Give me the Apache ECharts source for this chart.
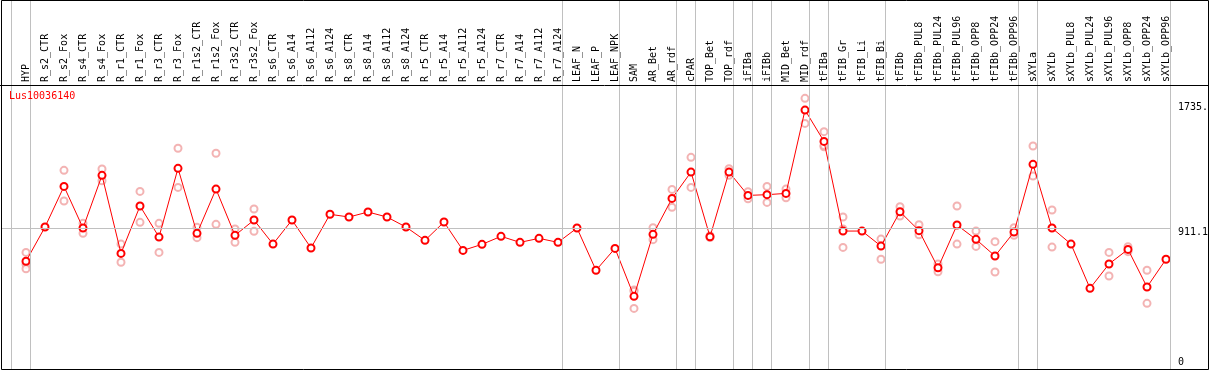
<!DOCTYPE html>
<html>
<head>
<meta charset="utf-8">
<script src="https://cdn.jsdelivr.net/npm/echarts@6/dist/echarts.min.js"></script>
<style>html,body{margin:0;padding:0;background:#fff;}#chart{width:1209px;height:370px;}</style>
</head>
<body>
<div id="chart"></div>
<script>
const geneName = 'Lus10036140';
const categories = ['HYP','R_s2_CTR','R_s2_Fox','R_s4_CTR','R_s4_Fox','R_r1_CTR','R_r1_Fox','R_r3_CTR','R_r3_Fox','R_r1s2_CTR',
  'R_r1s2_Fox','R_r3s2_CTR','R_r3s2_Fox','R_s6_CTR','R_s6_A14','R_s6_A112','R_s6_A124','R_s8_CTR','R_s8_A14','R_s8_A112',
  'R_s8_A124','R_r5_CTR','R_r5_A14','R_r5_A112','R_r5_A124','R_r7_CTR','R_r7_A14','R_r7_A112','R_r7_A124','LEAF_N',
  'LEAF_P','LEAF_NPK','SAM','AR_Bet','AR_rdf','cPAR','TOP_Bet','TOP_rdf','iFIBa','iFIBb',
  'MID_Bet','MID_rdf','tFIBa','tFIB_Gr','tFIB_Li','tFIB_Bi','tFIBb','tFIBb_PUL8','tFIBb_PUL24','tFIBb_PUL96',
  'tFIBb_OPP8','tFIBb_OPP24','tFIBb_OPP96','sXYLa','sXYLb','sXYLb_PUL8','sXYLb_PUL24','sXYLb_PUL96','sXYLb_OPP8','sXYLb_OPP24',
  'sXYLb_OPP96'];
const meanValues = [679,918,1202,911,1279,734,1065,848,1328,874,
  1183,860,967,799,967,772,1007,988,1023,988,
  918,825,953,755,797,853,811,839,811,911,
  616,769,434,867,1118,1302,850,1302,1139,1144,
  1153,1735,1516,890,890,785,1025,893,634,932,
  832,716,883,1356,911,799,490,660,762,499,
  693];
const rep1 = [741,null,1314,944,1323,799,1167,944,1468,916,
  1433,904,1044,null,null,null,null,null,null,null,
  null,null,null,null,null,null,null,null,null,null,
  null,null,478,913,1181,1405,857,1325,1165,1202,
  1183,1817,1584,988,null,834,1060,934,660,1065,
  890,816,913,1484,1037,null,null,741,781,616,
  null];
const rep2 = [657,null,1100,874,1241,672,951,741,1195,844,
  937,811,888,null,null,null,null,null,null,null,
  null,null,null,null,null,null,null,null,null,null,
  null,null,350,830,1056,1195,845,1279,1116,1090,
  1123,1642,1479,776,null,693,995,864,606,799,
  783,604,860,1274,778,null,null,576,746,385,
  null];
const rep3 = [627,null,null,null,null,null,null,null,null,null,
  null,null,null,null,null,null,null,null,null,null,
  null,null,null,null,null,null,null,null,null,null,
  null,null,470,null,null,null,null,null,null,null,
  null,null,1487,904,null,null,null,null,null,null,
  null,null,null,null,null,null,null,null,null,null,
  null];
const groupEnds = ['HYP','R_r7_A124','LEAF_NPK','AR_rdf','cPAR','TOP_rdf','iFIBa','iFIBb','MID_rdf','tFIBa','tFIB_Bi','tFIBb_OPP96','sXYLa','sXYLb_OPP96'];
const refLineValue = 911.1;
const yTickValues = [1735, 911.1, 0];
const yTickTexts = ['1735.', '911.1', '0'];

// layout
const W = 1209, H = 370;
const PLOT_LEFT = 16.5, PLOT_W = 1159, PLOT_TOP = 85, PLOT_H = 273.5, YMAX = 1910;
const FRAME_LEFT = 2, FRAME_RIGHT = 1171;
const band = PLOT_W / categories.length;
const sepOffset = 4.5 / band;
const xMin = -0.5 - (PLOT_LEFT - FRAME_LEFT) / band;
const xMax = (categories.length - 0.5) - ((PLOT_LEFT + PLOT_W) - FRAME_RIGHT) / band;
const scale = YMAX / PLOT_H;
const zeroPx = PLOT_TOP + PLOT_H;
const yLo = -(H - zeroPx) * scale;
const yHi = zeroPx * scale;

const mono = 'DejaVu Sans Mono';
const sepValues = [-1 + sepOffset].concat(groupEnds.map(n => categories.indexOf(n) + sepOffset));
const labelOffsets = [[0, -3], [0, 4], [0, 3.5]];

const chart = echarts.init(document.getElementById('chart'), null, {renderer: 'canvas'});
chart.setOption({
  animation: false,
  backgroundColor: '#fff',
  title: {
    text: geneName, left: 9, top: 91, padding: 0,
    textStyle: {color: '#ff0000', fontSize: 10, fontFamily: mono, fontWeight: 'normal'}
  },
  grid: [
    {left: PLOT_LEFT, width: PLOT_W, top: PLOT_TOP, height: PLOT_H},
    {left: FRAME_LEFT, width: FRAME_RIGHT - FRAME_LEFT, top: 0, height: H}
  ],
  xAxis: [
    {
      type: 'category', gridIndex: 0, position: 'top', data: categories, boundaryGap: true,
      axisLine: {show: false}, axisTick: {show: false}, splitLine: {show: false},
      axisLabel: {interval: 0, rotate: 90, margin: 3, color: '#000', fontSize: 10, fontFamily: mono}
    },
    {type: 'value', gridIndex: 1, min: xMin, max: xMax, show: false}
  ],
  yAxis: [
    {type: 'value', gridIndex: 0, min: 0, max: YMAX, show: false},
    {type: 'value', gridIndex: 1, min: yLo, max: yHi, show: false}
  ],
  series: [
    {
      type: 'line', xAxisIndex: 1, yAxisIndex: 1, data: [], silent: true, z: 1,
      markLine: {
        silent: true, symbol: ['none', 'none'], animation: false,
        lineStyle: {color: '#c0c0c0', type: 'solid', width: 1},
        label: {show: false},
        data: sepValues.map(v => ({xAxis: v}))
      }
    },
    {
      type: 'line', xAxisIndex: 1, yAxisIndex: 1, data: [], silent: true, z: 1,
      markLine: {
        silent: true, symbol: ['none', 'none'], animation: false,
        lineStyle: {color: '#c0c0c0', type: 'solid', width: 1},
        label: {show: true, position: 'end', distance: 7, color: '#000', fontSize: 10, fontFamily: mono},
        data: yTickValues.map((v, i) => ({
          yAxis: v,
          lineStyle: {color: v === refLineValue ? '#c0c0c0' : 'rgba(0,0,0,0)'},
          label: {show: true, formatter: yTickTexts[i], offset: labelOffsets[i], color: '#000'}
        }))
      }
    },
    {
      type: 'scatter', xAxisIndex: 0, yAxisIndex: 0, data: rep1, z: 3,
      symbol: 'emptyCircle', symbolSize: 7,
      itemStyle: {color: '#f0a0a0', borderColor: '#f09a9a', borderWidth: 1.2}
    },
    {
      type: 'scatter', xAxisIndex: 0, yAxisIndex: 0, data: rep2, z: 3,
      symbol: 'emptyCircle', symbolSize: 7,
      itemStyle: {color: '#f0a0a0', borderColor: '#f09a9a', borderWidth: 1.2}
    },
    {
      type: 'scatter', xAxisIndex: 0, yAxisIndex: 0, data: rep3, z: 3,
      symbol: 'emptyCircle', symbolSize: 7,
      itemStyle: {color: '#f0a0a0', borderColor: '#f09a9a', borderWidth: 1.2}
    },
    {
      type: 'line', xAxisIndex: 0, yAxisIndex: 0, data: meanValues, z: 4,
      symbol: 'emptyCircle', symbolSize: 7, showAllSymbol: true,
      lineStyle: {color: '#ff0000', width: 1},
      itemStyle: {color: '#ff0000', borderColor: '#ff0000', borderWidth: 1.5}
    }
  ],
  graphic: [
    {type: 'rect', silent: true, z: 100, shape: {x: 1.5, y: 0.5, width: 1207, height: 369},
      style: {fill: 'none', stroke: '#000', lineWidth: 1}},
    {type: 'line', silent: true, z: 100, shape: {x1: 0, y1: 85.5, x2: W, y2: 85.5},
      style: {stroke: '#000', lineWidth: 1}}
  ]
});
</script>
</body>
</html>
